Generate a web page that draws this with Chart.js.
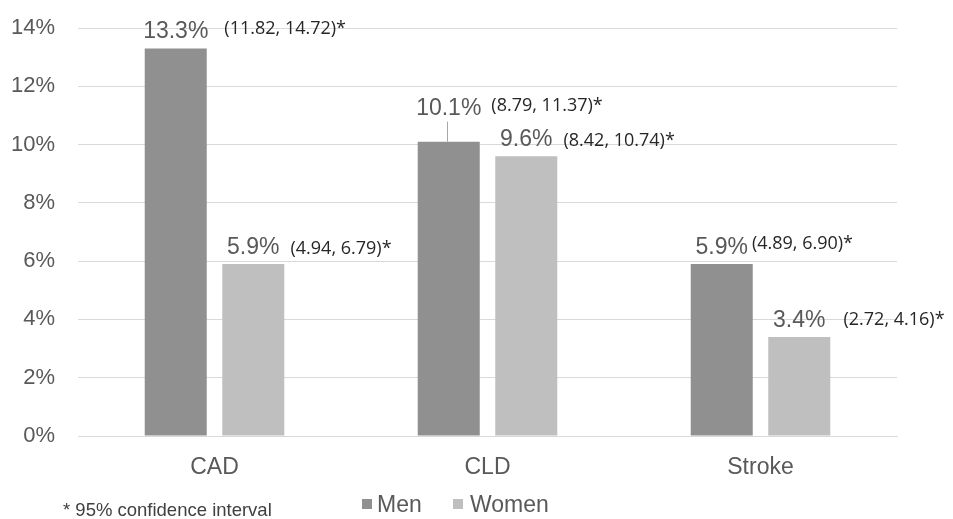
<!DOCTYPE html>
<html>
<head>
<meta charset="utf-8">
<script src="https://cdn.jsdelivr.net/npm/chart.js@4.4.1/dist/chart.umd.min.js"></script>
<style>
  html, body { margin: 0; padding: 0; background: #fff; }
  #wrap { width: 953px; height: 519px; }
</style>
</head>
<body>
<div id="wrap"><canvas id="grafico"></canvas></div>
<script>
// Dados
const categorias = ['CAD', 'CLD', 'Stroke'];
const men = [13.3, 10.1, 5.9];
const women = [5.9, 9.6, 3.4];
const menCI = ['(11.82, 14.72)*', '(8.79, 11.37)*', '(4.89, 6.90)*'];
const womenCI = ['(4.94, 6.79)*', '(8.42, 10.74)*', '(2.72, 4.16)*'];
const yTicks = [0, 2, 4, 6, 8, 10, 12, 14];
const nota = '* 95% confidence interval';

const corTexto = '#595959';
const fonteArial = '"Liberation Sans", Arial, sans-serif';
const fonteIC = '"Open Sans", "Noto Sans", sans-serif';

// ajuste fino dos rotulos: [espaco antes do IC, deslocamento vertical do IC, subida extra do valor]
const ajuste = [
  [[16, -4, 0], [10, -4, 17], [4, -5, 0]],
  [[11, 0, 0], [11, 0, 0], [18, -2, 0]]
];

const rotulos = {
  id: 'rotulos',
  afterDatasetsDraw(chart) {
    const ctx = chart.ctx;
    const intervalos = [menCI, womenCI];
    chart.data.datasets.forEach((ds, i) => {
      const meta = chart.getDatasetMeta(i);
      meta.data.forEach((bar, j) => {
        const [gap, dyIC, extra] = ajuste[i][j];
        const base = bar.y - 10 - extra;
        const txt = ds.data[j].toFixed(1) + '%';
        ctx.save();
        ctx.font = '23px ' + fonteArial;
        ctx.fillStyle = corTexto;
        ctx.textAlign = 'center';
        ctx.textBaseline = 'alphabetic';
        ctx.fillText(txt, bar.x, base);
        const w = ctx.measureText(txt).width;
        if (extra) {
          ctx.strokeStyle = '#a6a6a6';
          ctx.lineWidth = 1;
          ctx.beginPath();
          ctx.moveTo(Math.round(bar.x) - 1.5, base + 7);
          ctx.lineTo(Math.round(bar.x) - 1.5, bar.y);
          ctx.stroke();
        }
        ctx.font = '18px ' + fonteIC;
        ctx.fillStyle = '#262626';
        ctx.textAlign = 'left';
        ctx.fillText(intervalos[i][j], bar.x + w / 2 + gap, base + dyIC);
        ctx.restore();
      });
    });
  },
  afterDraw(chart) {
    const ctx = chart.ctx;
    ctx.save();
    // legenda
    const pos = [[362, 377], [453, 470]];
    chart.data.datasets.forEach((ds, i) => {
      ctx.fillStyle = ds.backgroundColor;
      ctx.fillRect(pos[i][0], 499, 10, 10);
      ctx.fillStyle = corTexto;
      ctx.font = '23px ' + fonteArial;
      ctx.textBaseline = 'alphabetic';
      ctx.fillText(ds.label, pos[i][1], 512);
    });
    // nota de rodape
    ctx.font = '18.5px ' + fonteArial;
    ctx.fillStyle = '#404040';
    ctx.fillText(nota, 63, 516);
    ctx.restore();
  }
};

const ctx = document.getElementById('grafico').getContext('2d');

const meuGrafico = new Chart(ctx, {
  type: 'bar',
  data: {
    labels: categorias,
    datasets: [
      {
        label: 'Men',
        data: men,
        backgroundColor: '#909090',
        barPercentage: 0.8,
        categoryPercentage: 0.568
      },
      {
        label: 'Women',
        data: women,
        backgroundColor: '#bfbfbf',
        barPercentage: 0.8,
        categoryPercentage: 0.568
      }
    ]
  },
  options: {
    responsive: true,
    maintainAspectRatio: false,
    animation: false,
    layout: { padding: { top: 28, right: 56, left: 0, bottom: 0 } },
    plugins: {
      legend: { display: false },
      tooltip: { enabled: false }
    },
    scales: {
      x: {
        grid: { display: false },
        border: { color: '#d9d9d9', width: 1 },
        ticks: { color: corTexto, font: { size: 23, family: fonteArial }, padding: 10 },
        afterFit(scale) { scale.height = 83; scale.paddingLeft = 0; scale.paddingRight = 0; }
      },
      y: {
        min: 0,
        max: 14,
        afterBuildTicks(scale) { scale.ticks = yTicks.map(v => ({ value: v })); },
        grid: { color: '#d9d9d9', drawTicks: false },
        border: { display: false },
        ticks: {
          color: corTexto,
          font: { size: 22, family: fonteArial },
          padding: 23,
          callback: (v) => v + '%'
        },
        afterFit(scale) { scale.width = 78; scale.paddingTop = 0; scale.paddingBottom = 0; }
      }
    }
  },
  plugins: [rotulos]
});
</script>
</body>
</html>
